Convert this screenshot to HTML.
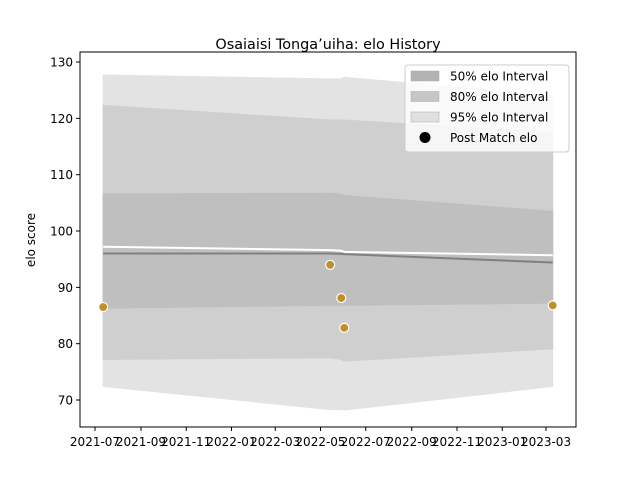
<!DOCTYPE html>
<html><head><meta charset="utf-8"><style>
body{margin:0;background:#fff;font-family:"Liberation Sans","DejaVu Sans",sans-serif}
svg text{font-family:"DejaVu Sans","Liberation Sans",sans-serif}
</style></head><body>
<svg id="c" width="640" height="480"></svg>
<script>
const dates=["2021-07-12","2022-05-14","2022-05-29","2022-06-02","2023-03-10"];
const eloPoints=[86.5,94.0,88.1,82.8,86.8];
const meanLine=[96.0,96.0,95.95,95.9,94.4];
const whiteLine=[97.2,96.6,96.5,96.3,95.7];
const up95=[127.7,127.0,127.0,127.3,124.0];
const lo95=[72.4,68.3,68.3,68.2,72.4];
const up80=[122.3,119.7,119.7,119.7,117.5];
const lo80=[77.2,77.5,77.2,76.9,79.1];
const up50=[106.6,106.7,106.5,106.3,103.5];
const lo50=[86.3,86.8,86.8,86.8,87.2];
const yTicks=[70,80,90,100,110,120,130];
const xTicks=["2021-07","2021-09","2021-11","2022-01","2022-03","2022-05","2022-07","2022-09","2022-11","2023-01","2023-03"];
const NS="http://www.w3.org/2000/svg",svg=document.getElementById('c');
const t0=Date.parse("2021-07-01");
function X(d){return 95+(Date.parse(d.length<8?d+"-01":d)-t0)/86400000*0.7418;}
function Y(v){return 400-(v-70)*5.633;}
function el(tag,a,p){const e=document.createElementNS(NS,tag);for(const k in a)e.setAttribute(k,a[k]);(p||svg).appendChild(e);return e;}
el('rect',{x:0,y:0,width:640,height:480,fill:'#fff'});
function band(u,l,fill,name){const pts=dates.map((d,i)=>X(d)+','+Y(u[i])).concat(dates.map((d,i)=>X(d)+','+Y(l[i])).reverse());
const p=el('polygon',{points:pts.join(' '),fill:fill,stroke:fill});

}
band(up95,lo95,'#e3e3e3','band-95');
band(up80,lo80,'#cfcfcf','band-80');
band(up50,lo50,'#bfbfbf','band-50');
function line(v,c,w,name){const p=el('polyline',{points:dates.map((d,i)=>X(d)+','+Y(v[i])).join(' '),fill:'none',stroke:c,'stroke-width':w});

}
line(whiteLine,'#ffffff',2,'elo-estimate-line');
line(meanLine,'#808080',2,'elo-median-line');
eloPoints.forEach((v,i)=>{const c=el('circle',{cx:X(dates[i]),cy:Y(v),r:4.5,fill:'#bf8f2a',stroke:'#fff','stroke-width':1.2});

});
const ax=el('rect',{x:80,y:52,width:496,height:375,fill:'none',stroke:'#000','stroke-width':1});


yTicks.forEach(v=>{el('line',{x1:76,x2:80,y1:Y(v),y2:Y(v),stroke:'#000'});
const t=el('text',{x:73,y:Y(v)+4.5,'text-anchor':'end','font-size':12});t.textContent=v;

});
xTicks.forEach(d=>{const x=X(d);el('line',{x1:x,x2:x,y1:427,y2:431,stroke:'#000'});
const t=el('text',{x:x,y:446,'text-anchor':'middle','font-size':12});t.textContent=d;

});
const tt=el('text',{x:328,y:49,'text-anchor':'middle','font-size':14.4});tt.textContent="Osaiaisi Tonga’uiha: elo History";


const yl=el('text',{x:35,y:240,'text-anchor':'middle','font-size':12,transform:'rotate(-90 35 240)'});yl.textContent="elo score";


const lg=el('g',{});


el('rect',{x:405,y:65,width:164,height:87,rx:3,fill:'#fff','fill-opacity':0.8,stroke:'#ccc'},lg);
const items=[['50% elo Interval','#b3b3b3'],['80% elo Interval','#c6c6c6'],['95% elo Interval','#e0e0e0'],['Post Match elo',null]];
items.forEach((it,i)=>{const y=76+i*20.5;
if(it[1])el('rect',{x:411,y:y-5,width:28,height:10,fill:it[1],stroke:'#aaa','stroke-width':0.5},lg);
else el('circle',{cx:425,cy:y,r:5.5,fill:'#000'},lg);
const t=el('text',{x:450,y:y+4.5,'font-size':12},lg);t.textContent=it[0];

});
</script></body></html>
